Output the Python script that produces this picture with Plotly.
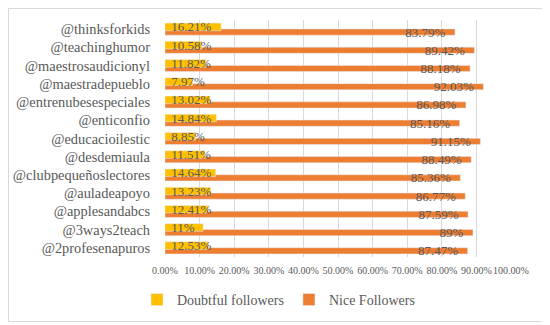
import plotly.graph_objects as go

accounts = ['@thinksforkids', '@teachinghumor', '@maestrosaudicionyl', '@maestradepueblo',
            '@entrenubesespeciales', '@enticonfio', '@educacioilestic', '@desdemiaula',
            '@clubpequeñoslectores', '@auladeapoyo', '@applesandabcs', '@3ways2teach',
            '@2profesenapuros']
doubtful = [16.21, 10.58, 11.82, 7.97, 13.02, 14.84, 8.85, 11.51, 14.64, 13.23, 12.41, 11, 12.53]
nice = [83.79, 89.42, 88.18, 92.03, 86.98, 85.16, 91.15, 88.49, 85.36, 86.77, 87.59, 89, 87.47]

def pct_label(v):
    return f'{v:g}%' if float(v).is_integer() else f'{v:.2f}%'

SERIF = 'Liberation Serif, Times New Roman, serif'
GREY = '#595959'

# page body adds an 8px margin, so the figure is sized to fill the rest
W, H = 542, 317
L, T, R, B = 157, 12, 39, 68

fig = go.Figure()

# orange first so the yellow labels sit on top of it
fig.add_trace(go.Bar(
    y=accounts, x=[v / 100 for v in nice], orientation='h',
    name='Nice Followers', marker_color='#ED7D31',
    width=0.34, offset=-0.01, legendrank=2,
    text=[pct_label(v) + '\u00a0\u00a0' for v in nice],
    textposition='inside', insidetextanchor='end', constraintext='none',
    textfont=dict(family=SERIF, size=13, color=GREY),
))
fig.add_trace(go.Bar(
    y=accounts, x=[v / 100 for v in doubtful], orientation='h',
    name='Doubtful followers', marker_color='#FFC000',
    width=0.42, offset=-0.33, legendrank=1,
    text=['\u00a0' + pct_label(v) for v in doubtful],
    textposition='inside', insidetextanchor='start', constraintext='none',
    textfont=dict(family=SERIF, size=13, color=GREY),
))

pw, ph = W - L - R, H - T - B
fig.update_layout(
    width=W, height=H,
    margin=dict(l=L, r=R, t=T, b=B),
    paper_bgcolor='white', plot_bgcolor='white',
    barmode='overlay',
    font=dict(family=SERIF, color=GREY),
    showlegend=True,
    legend=dict(orientation='h', xref='container', yref='container',
                x=0.238, xanchor='left', y=0.079, yanchor='middle',
                font=dict(family=SERIF, size=14, color=GREY)),
    xaxis=dict(range=[0, 1], dtick=0.1, tickformat='.2%', tickangle=0,
               automargin=False, ticklabelstandoff=6,
               showgrid=True, gridcolor='#D9D9D9', gridwidth=1,
               zeroline=False, showline=False,
               tickfont=dict(family=SERIF, size=10, color=GREY)),
    yaxis=dict(range=[12.5, -0.5], showgrid=False, showline=False,
               automargin=False, ticklabelstandoff=14,
               tickfont=dict(family=SERIF, size=14.4, color=GREY)),
    shapes=[dict(type='rect', xref='paper', yref='paper',
                 x0=(0.5 - L) / pw, x1=(W - 6.5 - L) / pw,
                 y0=(H - B - (H - 3.5)) / ph, y1=(H - B - 0.5) / ph,
                 line=dict(color='#D9D9D9', width=1), layer='below')],
)

fig.write_html('out.html')
